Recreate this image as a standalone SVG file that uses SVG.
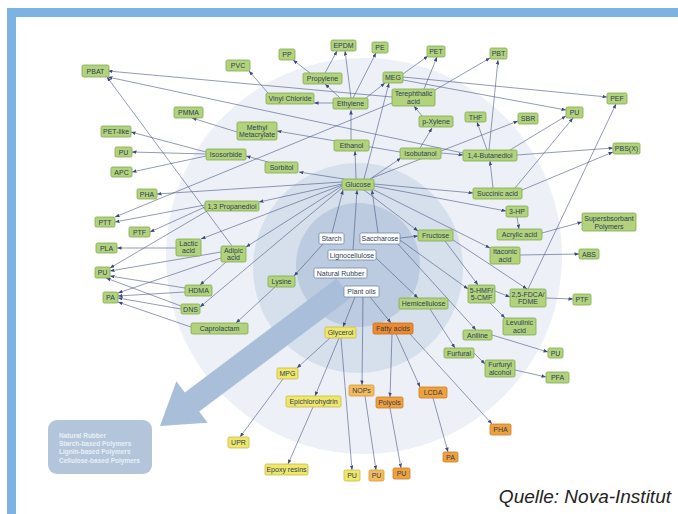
<svg xmlns="http://www.w3.org/2000/svg" width="678" height="514" viewBox="0 0 678 514">
<defs>
<marker id="a" viewBox="0 0 10 8" refX="10" refY="4" markerWidth="4.5" markerHeight="3.6" orient="auto" markerUnits="userSpaceOnUse"><path d="M0,0 L10,4 L0,8 z" fill="#3c4a7c"/></marker>
<style>
.n rect{fill:#b2d37c;stroke:#7fa94f;stroke-width:0.8}
.y rect{fill:#efe76c;stroke:#c8bb44;stroke-width:0.8}
.o rect{fill:#f0a13c;stroke:#c67d28;stroke-width:0.8}
.d rect{fill:#ee8a2c;stroke:#c46f20;stroke-width:0.8}
.l rect{fill:#f5bb5a;stroke:#d29a3a;stroke-width:0.8}
.w rect{fill:#ffffff;stroke:#7088aa;stroke-width:0.8}
text{font-family:"Liberation Sans",Arial,sans-serif;font-size:7px;fill:#2e3d55;text-anchor:middle}
#connectors line{stroke:#4a5785;stroke-width:0.6;marker-end:url(#a)}
.leg{font-weight:bold;font-size:6.5px;fill:#e9eff6;text-anchor:start}
</style>
</defs>
<rect x="0" y="0" width="678" height="514" fill="#ffffff"/>
<rect x="7" y="8" width="671" height="9" fill="#7db3e3"/>
<rect x="7" y="8" width="9" height="506" fill="#7db3e3"/>
<g id="background">
<circle cx="364" cy="256" r="198" fill="#edf1f7"/>
<circle cx="358" cy="268" r="105" fill="#d6e0ec"/>
<circle cx="358" cy="265" r="62" fill="#bccbdf"/>
<polygon points="336.8,278.4 184.8,392.4 176.4,381.2 160,426 207.6,422.8 199.2,411.6 351.2,297.6" fill="#a9bed8"/>
<rect x="48" y="420" width="104" height="54" rx="9" fill="#b3c5db"/>
<text class="leg" x="59" y="437.5">Natural Rubber</text>
<text class="leg" x="59" y="446">Starch-based Polymers</text>
<text class="leg" x="59" y="454.3">Lignin-based Polymers</text>
<text class="leg" x="59" y="462.8">Cellulose-based Polymers</text>
</g>
<g id="connectors">
<line x1="310" y1="73" x2="293" y2="60"/>
<line x1="325" y1="73" x2="337" y2="51"/>
<line x1="351" y1="98" x2="345" y2="51"/>
<line x1="353" y1="98" x2="376" y2="53"/>
<line x1="340" y1="98" x2="325" y2="84"/>
<line x1="333" y1="103" x2="314" y2="103"/>
<line x1="268" y1="93" x2="249" y2="71"/>
<line x1="366" y1="98" x2="385" y2="83"/>
<line x1="351" y1="140" x2="351" y2="110"/>
<line x1="403" y1="74" x2="428" y2="56"/>
<line x1="424" y1="89" x2="437" y2="57"/>
<line x1="422" y1="116" x2="414" y2="106"/>
<line x1="420" y1="148" x2="432" y2="128"/>
<line x1="435" y1="90" x2="490" y2="58"/>
<line x1="403" y1="77" x2="607" y2="97"/>
<line x1="403" y1="80" x2="566" y2="110"/>
<line x1="489" y1="150" x2="498" y2="60"/>
<line x1="487" y1="150" x2="477" y2="122"/>
<line x1="510" y1="150" x2="566" y2="116"/>
<line x1="517" y1="155" x2="613" y2="148"/>
<line x1="441" y1="153" x2="463" y2="155"/>
<line x1="372" y1="178" x2="518" y2="121"/>
<line x1="493" y1="188" x2="490" y2="161"/>
<line x1="515" y1="188" x2="573" y2="118"/>
<line x1="522" y1="190" x2="613" y2="152"/>
<line x1="374" y1="184" x2="473" y2="193"/>
<line x1="374" y1="186" x2="506" y2="211"/>
<line x1="517" y1="217" x2="519" y2="229"/>
<line x1="542" y1="233" x2="582" y2="222"/>
<line x1="372" y1="189" x2="490" y2="248"/>
<line x1="520" y1="255" x2="579" y2="254"/>
<line x1="528" y1="289" x2="616" y2="104"/>
<line x1="546" y1="298" x2="573" y2="299"/>
<line x1="495" y1="291" x2="510" y2="297"/>
<line x1="453" y1="240" x2="527" y2="289"/>
<line x1="445" y1="241" x2="478" y2="285"/>
<line x1="400" y1="240" x2="468" y2="289"/>
<line x1="490" y1="303" x2="505" y2="318"/>
<line x1="398" y1="244" x2="476" y2="330"/>
<line x1="492" y1="335" x2="548" y2="352"/>
<line x1="430" y1="309" x2="455" y2="348"/>
<line x1="474" y1="353" x2="485" y2="364"/>
<line x1="515" y1="370" x2="546" y2="377"/>
<line x1="376" y1="258" x2="418" y2="298"/>
<line x1="400" y1="238" x2="418" y2="236"/>
<line x1="364" y1="190" x2="418" y2="231"/>
<line x1="332" y1="233" x2="343" y2="190"/>
<line x1="353" y1="250" x2="357" y2="190"/>
<line x1="378" y1="233" x2="372" y2="190"/>
<line x1="323" y1="244" x2="294" y2="276"/>
<line x1="275" y1="287" x2="236" y2="323"/>
<line x1="191" y1="327" x2="118" y2="302"/>
<line x1="342" y1="188" x2="200" y2="307"/>
<line x1="181" y1="306" x2="106" y2="278"/>
<line x1="181" y1="309" x2="118" y2="298"/>
<line x1="185" y1="288" x2="110" y2="276"/>
<line x1="185" y1="292" x2="118" y2="296"/>
<line x1="226" y1="262" x2="200" y2="285"/>
<line x1="221" y1="252" x2="110" y2="271"/>
<line x1="221" y1="258" x2="118" y2="293"/>
<line x1="342" y1="186" x2="246" y2="247"/>
<line x1="232" y1="246" x2="107" y2="77"/>
<line x1="342" y1="185" x2="201" y2="239"/>
<line x1="176" y1="248" x2="117" y2="248"/>
<line x1="342" y1="184" x2="259" y2="202"/>
<line x1="205" y1="205" x2="115" y2="222"/>
<line x1="205" y1="207" x2="150" y2="232"/>
<line x1="207" y1="211" x2="110" y2="268"/>
<line x1="392" y1="103" x2="115" y2="217"/>
<line x1="342" y1="182" x2="157" y2="194"/>
<line x1="344" y1="179" x2="299" y2="172"/>
<line x1="268" y1="162" x2="246" y2="156"/>
<line x1="206" y1="152" x2="131" y2="132"/>
<line x1="206" y1="154" x2="132" y2="152"/>
<line x1="206" y1="156" x2="132" y2="172"/>
<line x1="237" y1="132" x2="192" y2="118"/>
<line x1="400" y1="152" x2="277" y2="131"/>
<line x1="392" y1="97" x2="108" y2="71"/>
<line x1="463" y1="153" x2="108" y2="77"/>
<line x1="356" y1="179" x2="355" y2="151"/>
<line x1="364" y1="179" x2="389" y2="83"/>
<line x1="370" y1="179" x2="401" y2="158"/>
<line x1="355" y1="297" x2="343" y2="327"/>
<line x1="363" y1="297" x2="362" y2="385"/>
<line x1="370" y1="297" x2="391" y2="323"/>
<line x1="392" y1="334" x2="390" y2="397"/>
<line x1="396" y1="334" x2="420" y2="387"/>
<line x1="410" y1="334" x2="492" y2="424"/>
<line x1="433" y1="398" x2="448" y2="452"/>
<line x1="390" y1="408" x2="401" y2="468"/>
<line x1="365" y1="396" x2="376" y2="470"/>
<line x1="330" y1="338" x2="297" y2="368"/>
<line x1="339" y1="338" x2="315" y2="396"/>
<line x1="341" y1="338" x2="352" y2="470"/>
<line x1="283" y1="379" x2="240" y2="437"/>
<line x1="313" y1="407" x2="288" y2="464"/>
</g>
<g id="n-pbat" class="n"><rect x="82" y="65" width="27" height="12" rx="1.5"/><text x="95.5" y="73.5">PBAT</text></g>
<g id="n-pvc" class="n"><rect x="226" y="60" width="24" height="11" rx="1.5"/><text x="238" y="68">PVC</text></g>
<g id="n-pp" class="n"><rect x="279" y="49" width="16" height="11" rx="1.5"/><text x="287" y="57">PP</text></g>
<g id="n-epdm" class="n"><rect x="331" y="40" width="25" height="11" rx="1.5"/><text x="343.5" y="48">EPDM</text></g>
<g id="n-pe" class="n"><rect x="372" y="42" width="16" height="11" rx="1.5"/><text x="380" y="50">PE</text></g>
<g id="n-pet" class="n"><rect x="427" y="46" width="18" height="11" rx="1.5"/><text x="436" y="54">PET</text></g>
<g id="n-pbt" class="n"><rect x="490" y="48" width="17" height="11" rx="1.5"/><text x="498.5" y="56">PBT</text></g>
<g id="n-propylene" class="n"><rect x="303" y="73" width="39" height="11" rx="1.5"/><text x="322.5" y="81">Propylene</text></g>
<g id="n-meg" class="n"><rect x="383" y="72" width="20" height="11" rx="1.5"/><text x="393" y="80">MEG</text></g>
<g id="n-vinyl" class="n"><rect x="266" y="93" width="48" height="11" rx="1.5"/><text x="290" y="101">Vinyl Chloride</text></g>
<g id="n-ethylene" class="n"><rect x="333" y="98" width="35" height="11" rx="1.5"/><text x="350.5" y="106">Ethylene</text></g>
<g id="n-tere" class="n"><rect x="392" y="89" width="43" height="17" rx="1.5"/><text x="413.5" y="96">Terephthalic</text><text x="413.5" y="103.5">acid</text></g>
<g id="n-pef" class="n"><rect x="607" y="93" width="20" height="11" rx="1.5"/><text x="617" y="101">PEF</text></g>
<g id="n-pu1" class="n"><rect x="566" y="107" width="17" height="11" rx="1.5"/><text x="574.5" y="115">PU</text></g>
<g id="n-pmma" class="n"><rect x="174" y="107" width="29" height="11" rx="1.5"/><text x="188.5" y="115">PMMA</text></g>
<g id="n-mm" class="n"><rect x="237" y="122" width="40" height="18" rx="1.5"/><text x="257" y="130">Methyl</text><text x="257" y="137">Metacrylate</text></g>
<g id="n-pxylene" class="n"><rect x="419" y="116" width="34" height="11" rx="1.5"/><text x="436" y="124">p-Xylene</text></g>
<g id="n-thf" class="n"><rect x="465" y="112" width="21" height="10" rx="1.5"/><text x="475.5" y="119.5">THF</text></g>
<g id="n-sbr" class="n"><rect x="518" y="113" width="20" height="11" rx="1.5"/><text x="528" y="121">SBR</text></g>
<g id="n-petlike" class="n"><rect x="101" y="126" width="30" height="11" rx="1.5"/><text x="116" y="134">PET-like</text></g>
<g id="n-ethanol" class="n"><rect x="334" y="140" width="35" height="11" rx="1.5"/><text x="351.5" y="148">Ethanol</text></g>
<g id="n-pbsx" class="n"><rect x="613" y="143" width="27" height="11" rx="1.5"/><text x="626.5" y="151">PBS(X)</text></g>
<g id="n-pu2" class="n"><rect x="115" y="147" width="17" height="10" rx="1.5"/><text x="123.5" y="154.5">PU</text></g>
<g id="n-isosorbide" class="n"><rect x="206" y="149" width="40" height="11" rx="1.5"/><text x="226" y="157">Isosorbide</text></g>
<g id="n-isobutanol" class="n"><rect x="400" y="148" width="41" height="11" rx="1.5"/><text x="420.5" y="156">Isobutanol</text></g>
<g id="n-bdo" class="n"><rect x="463" y="150" width="54" height="11" rx="1.5"/><text x="490" y="158">1,4-Butanediol</text></g>
<g id="n-sorbitol" class="n"><rect x="265" y="162" width="33" height="11" rx="1.5"/><text x="281.5" y="170">Sorbitol</text></g>
<g id="n-apc" class="n"><rect x="111" y="167" width="21" height="10" rx="1.5"/><text x="121.5" y="174.5">APC</text></g>
<g id="n-glucose" class="n"><rect x="342" y="179" width="32" height="11" rx="1.5"/><text x="358" y="187">Glucose</text></g>
<g id="n-succinic" class="n"><rect x="473" y="188" width="49" height="11" rx="1.5"/><text x="497.5" y="196">Succinic acid</text></g>
<g id="n-pha1" class="n"><rect x="137" y="189" width="20" height="10" rx="1.5"/><text x="147" y="196.5">PHA</text></g>
<g id="n-pdo" class="n"><rect x="205" y="201" width="54" height="10" rx="1.5"/><text x="232" y="208.5">1,3 Propanediol</text></g>
<g id="n-3hp" class="n"><rect x="506" y="206" width="22" height="11" rx="1.5"/><text x="517" y="214">3-HP</text></g>
<g id="n-sap" class="n"><rect x="582" y="213" width="54" height="18" rx="1.5"/><text x="609" y="221">Supersbsorbant</text><text x="609" y="228.5">Polymers</text></g>
<g id="n-ptt" class="n"><rect x="95" y="217" width="20" height="10" rx="1.5"/><text x="105" y="224.5">PTT</text></g>
<g id="n-ptf1" class="n"><rect x="129" y="227" width="21" height="10" rx="1.5"/><text x="139.5" y="234.5">PTF</text></g>
<g id="n-acrylic" class="n"><rect x="497" y="229" width="45" height="11" rx="1.5"/><text x="519.5" y="237">Acrylic acid</text></g>
<g id="n-fructose" class="n"><rect x="418" y="230" width="35" height="11" rx="1.5"/><text x="435.5" y="238">Fructose</text></g>
<g id="n-lactic" class="n"><rect x="176" y="239" width="25" height="17" rx="1.5"/><text x="188.5" y="246">Lactic</text><text x="188.5" y="253">acid</text></g>
<g id="n-pla" class="n"><rect x="96" y="243" width="21" height="10" rx="1.5"/><text x="106.5" y="250.5">PLA</text></g>
<g id="n-adipic" class="n"><rect x="221" y="246" width="25" height="16" rx="1.5"/><text x="233.5" y="252.5">Adipic</text><text x="233.5" y="259.5">acid</text></g>
<g id="n-itaconic" class="n"><rect x="490" y="247" width="30" height="17" rx="1.5"/><text x="505" y="254">Itaconic</text><text x="505" y="261.5">acid</text></g>
<g id="n-abs" class="n"><rect x="579" y="249" width="20" height="10" rx="1.5"/><text x="589" y="256.5">ABS</text></g>
<g id="n-pu3" class="n"><rect x="95" y="267" width="15" height="11" rx="1.5"/><text x="102.5" y="275">PU</text></g>
<g id="n-lysine" class="n"><rect x="268" y="276" width="27" height="11" rx="1.5"/><text x="281.5" y="284">Lysine</text></g>
<g id="n-hdma" class="n"><rect x="185" y="285" width="27" height="11" rx="1.5"/><text x="198.5" y="293">HDMA</text></g>
<g id="n-hmf" class="n"><rect x="468" y="285" width="27" height="18" rx="1.5"/><text x="481.5" y="292.5">5-HMF/</text><text x="481.5" y="300">5-CMF</text></g>
<g id="n-fdca" class="n"><rect x="510" y="289" width="36" height="18" rx="1.5"/><text x="528" y="296.5">2,5-FDCA/</text><text x="528" y="304">FDME</text></g>
<g id="n-pa1" class="n"><rect x="103" y="292" width="15" height="11" rx="1.5"/><text x="110.5" y="300">PA</text></g>
<g id="n-ptf2" class="n"><rect x="573" y="294" width="18" height="11" rx="1.5"/><text x="582" y="302">PTF</text></g>
<g id="n-hemi" class="n"><rect x="399" y="298" width="49" height="11" rx="1.5"/><text x="423.5" y="306">Hemicellulose</text></g>
<g id="n-dns" class="n"><rect x="181" y="304" width="19" height="10" rx="1.5"/><text x="190.5" y="311.5">DNS</text></g>
<g id="n-levulinic" class="n"><rect x="503" y="318" width="33" height="17" rx="1.5"/><text x="519.5" y="325">Levulinic</text><text x="519.5" y="332.5">acid</text></g>
<g id="n-caprolactam" class="n"><rect x="191" y="323" width="57" height="11" rx="1.5"/><text x="219.5" y="331">Caprolactam</text></g>
<g id="n-aniline" class="n"><rect x="463" y="330" width="29" height="10" rx="1.5"/><text x="477.5" y="337.5">Aniline</text></g>
<g id="n-furfural" class="n"><rect x="444" y="348" width="30" height="10" rx="1.5"/><text x="459" y="355.5">Furfural</text></g>
<g id="n-pu4" class="n"><rect x="548" y="348" width="15" height="10" rx="1.5"/><text x="555.5" y="355.5">PU</text></g>
<g id="n-furfuryl" class="n"><rect x="485" y="360" width="30" height="17" rx="1.5"/><text x="500" y="367">Furfuryl</text><text x="500" y="374.5">alcohol</text></g>
<g id="n-pfa" class="n"><rect x="546" y="372" width="23" height="11" rx="1.5"/><text x="557.5" y="380">PFA</text></g>
<g id="n-starch" class="w"><rect x="319" y="233" width="25" height="11" rx="1.5"/><text x="331.5" y="241">Starch</text></g>
<g id="n-saccharose" class="w"><rect x="360" y="233" width="40" height="11" rx="1.5"/><text x="380" y="241">Saccharose</text></g>
<g id="n-ligno" class="w"><rect x="328" y="250" width="48" height="10" rx="1.5"/><text x="352" y="257.5">Lignocellulose</text></g>
<g id="n-rubber" class="w"><rect x="314" y="268" width="53" height="10" rx="1.5"/><text x="340.5" y="275.5">Natural Rubber</text></g>
<g id="n-plantoils" class="w"><rect x="344" y="286" width="35" height="11" rx="1.5"/><text x="361.5" y="294">Plant oils</text></g>
<g id="n-glycerol" class="y"><rect x="325" y="327" width="31" height="11" rx="1.5"/><text x="340.5" y="335">Glycerol</text></g>
<g id="n-mpg" class="y"><rect x="277" y="368" width="21" height="11" rx="1.5"/><text x="287.5" y="376">MPG</text></g>
<g id="n-epi" class="y"><rect x="286" y="396" width="55" height="11" rx="1.5"/><text x="313.5" y="404">Epichlorohydrin</text></g>
<g id="n-upr" class="y"><rect x="228" y="437" width="21" height="11" rx="1.5"/><text x="238.5" y="445">UPR</text></g>
<g id="n-epoxy" class="y"><rect x="265" y="464" width="43" height="11" rx="1.5"/><text x="286.5" y="472">Epoxy resins</text></g>
<g id="n-pu5" class="y"><rect x="344" y="470" width="16" height="11" rx="1.5"/><text x="352" y="478">PU</text></g>
<g id="n-fatty" class="d"><rect x="373" y="323" width="40" height="11" rx="1.5"/><text x="393" y="331">Fatty acids</text></g>
<g id="n-nops" class="l"><rect x="349" y="385" width="25" height="11" rx="1.5"/><text x="361.5" y="393">NOPs</text></g>
<g id="n-polyols" class="o"><rect x="376" y="397" width="27" height="11" rx="1.5"/><text x="389.5" y="405">Polyols</text></g>
<g id="n-lcda" class="o"><rect x="419" y="387" width="28" height="11" rx="1.5"/><text x="433" y="395">LCDA</text></g>
<g id="n-pu6" class="l"><rect x="369" y="470" width="15" height="11" rx="1.5"/><text x="376.5" y="478">PU</text></g>
<g id="n-pu7" class="o"><rect x="393" y="468" width="17" height="11" rx="1.5"/><text x="401.5" y="476">PU</text></g>
<g id="n-pha2" class="o"><rect x="490" y="424" width="21" height="11" rx="1.5"/><text x="500.5" y="432">PHA</text></g>
<g id="n-pa2" class="o"><rect x="443" y="452" width="15" height="10" rx="1.5"/><text x="450.5" y="459.5">PA</text></g>
<text x="671" y="503" style="font-size:19px;font-style:italic;fill:#222;text-anchor:end">Quelle: Nova-Institut</text>
</svg>
